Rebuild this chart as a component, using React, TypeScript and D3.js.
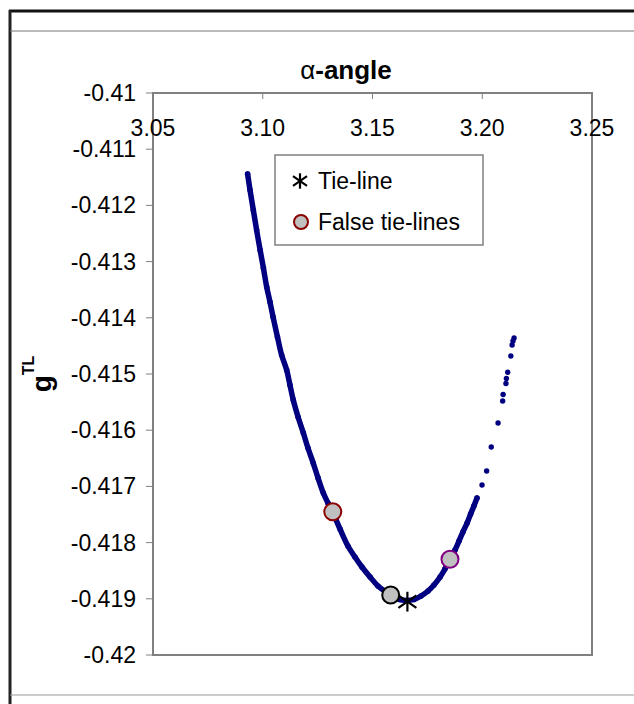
import React from 'react';
import * as d3 from 'd3';

// dense part of the curve (markers overlap into a band)
const denseX = [3.0931, 3.0942, 3.0957, 3.0972, 3.0988, 3.1003, 3.1018, 3.1033, 3.1047, 3.1067,
  3.1086, 3.1109, 3.1124, 3.1139, 3.1161, 3.1185, 3.1206, 3.1230, 3.1252, 3.1276,
  3.1297, 3.1320, 3.1352, 3.1388, 3.1420, 3.1452, 3.1489, 3.1525, 3.1562, 3.1593,
  3.1625, 3.1657, 3.1689, 3.1721, 3.1753, 3.1780, 3.1808, 3.1830, 3.1853, 3.1876,
  3.1894, 3.1912, 3.1931, 3.1947, 3.1962, 3.1976];
const denseY = [-0.411441, -0.411726, -0.412082, -0.412438, -0.412794, -0.413114, -0.413452, -0.413719, -0.413986, -0.414342,
  -0.414662, -0.414929, -0.415196, -0.415463, -0.415765, -0.416050, -0.416317, -0.416584, -0.416851, -0.417117,
  -0.417295, -0.417473, -0.417758, -0.418060, -0.418256, -0.418434, -0.418612, -0.418772, -0.418879, -0.418968,
  -0.419012, -0.419030, -0.419012, -0.418950, -0.418861, -0.418754, -0.418612, -0.418470, -0.418292, -0.418132,
  -0.417972, -0.417811, -0.417651, -0.417491, -0.417349, -0.417206];

// isolated points on the right branch
const sparseX = [3.1999, 3.2020, 3.2041, 3.2072, 3.2093, 3.2095, 3.2108, 3.2110, 3.2116, 3.2130, 3.2136, 3.2140, 3.2145];
const sparseY = [-0.416975, -0.416726, -0.416299, -0.415872, -0.415480, -0.415365, -0.415169, -0.415080, -0.414970, -0.414680, -0.414484, -0.414413, -0.414359];

const tieX = 3.1659;
const tieY = -0.419051;

const falseX = [3.1319, 3.1583, 3.1853];
const falseY = [-0.417450, -0.418932, -0.418297];
const falseEdge = ['#8b0000', '#000000', '#800080'];

const xTicks = [3.05, 3.10, 3.15, 3.20, 3.25];
const yTicks = [-0.41, -0.411, -0.412, -0.413, -0.414, -0.415, -0.416, -0.417, -0.418, -0.419, -0.42];

const FONT = 'Liberation Sans, Arial, sans-serif';

const Star = ({ cx, cy, s }: { cx: number; cy: number; s: number }) => (
  <g stroke="#000" strokeWidth={2.2}>
    <line x1={cx} y1={cy - s * 1.1} x2={cx} y2={cy + s * 1.1} />
    <line x1={cx - s} y1={cy - s * 0.7} x2={cx + s} y2={cy + s * 0.7} />
    <line x1={cx - s} y1={cy + s * 0.7} x2={cx + s} y2={cy - s * 0.7} />
  </g>
);

export default function App() {
  const left = 153, right = 592, top = 93, bottom = 655;
  const x = d3.scaleLinear().domain([3.05, 3.25]).range([left, right]);
  const y = d3.scaleLinear().domain([-0.42, -0.41]).range([bottom, top]);

  const dense = denseX.map((v, i) => [v, denseY[i]] as [number, number]);
  const line = d3.line<[number, number]>()
    .x(d => x(d[0]))
    .y(d => y(d[1]))
    .curve(d3.curveCatmullRom);

  return (
    <svg width={634} height={704} style={{ position: 'absolute', left: 0, top: 0, background: '#fff' }} fontFamily={FONT}>
      {/* outer frame */}
      <line x1={9} y1={11} x2={634} y2={11} stroke="#111" strokeWidth={3} />
      <line x1={10} y1={10} x2={10} y2={704} stroke="#222" strokeWidth={3} />
      <line x1={10} y1={31} x2={634} y2={31} stroke="#777" strokeWidth={1} />
      <line x1={10} y1={695} x2={634} y2={695} stroke="#999" strokeWidth={1} />

      {/* title */}
      <text x={346} y={79} textAnchor="middle" fontSize={26} fontWeight="bold">
        <tspan fontWeight="normal">α</tspan>-angle
      </text>

      {/* y title */}
      <text transform="translate(51,374) rotate(-90)" textAnchor="middle" fontSize={28} fontWeight="bold">
        g<tspan fontSize={16} dy={-17}>TL</tspan>
      </text>

      {/* plot frame */}
      <rect x={left} y={top} width={right - left} height={bottom - top} fill="#fff" stroke="#808080" strokeWidth={2} />

      {/* y ticks */}
      {yTicks.map(t => (
        <g key={t}>
          <line x1={left - 7} x2={left} y1={y(t)} y2={y(t)} stroke="#808080" strokeWidth={1} />
          <text x={136} y={y(t) + 8} textAnchor="end" fontSize={23}>{String(t)}</text>
        </g>
      ))}

      {/* x ticks (top axis, labels inside) */}
      {xTicks.map(t => (
        <g key={t}>
          <line x1={x(t)} x2={x(t)} y1={top} y2={top + 6} stroke="#808080" strokeWidth={1} />
          <text x={x(t)} y={136} textAnchor="middle" fontSize={23}>{d3.format('.2f')(t)}</text>
        </g>
      ))}

      {/* data */}
      <path d={line(dense) || ''} fill="none" stroke="#000080" strokeWidth={5.5} strokeLinecap="round" />
      {dense.map((d, i) => (
        <circle key={'d' + i} cx={x(d[0])} cy={y(d[1])} r={2.8} fill="#000080" />
      ))}
      {sparseX.map((v, i) => (
        <circle key={'s' + i} cx={x(v)} cy={y(sparseY[i])} r={2.7} fill="#000080" />
      ))}

      {falseX.map((v, i) => (
        <circle key={'f' + i} cx={x(v)} cy={y(falseY[i])} r={8.5} fill="#c0c0c0" stroke={falseEdge[i]} strokeWidth={2} />
      ))}
      <Star cx={x(tieX)} cy={y(tieY)} s={9} />

      {/* legend */}
      <rect x={275} y={155} width={208} height={90} fill="#fff" stroke="#808080" strokeWidth={1.5} />
      <Star cx={300} cy={181} s={7} />
      <text x={318} y={189} fontSize={23}>Tie-line</text>
      <circle cx={301} cy={222} r={7} fill="#c0c0c0" stroke="#8b0000" strokeWidth={2} />
      <text x={318} y={230} fontSize={23}>False tie-lines</text>
    </svg>
  );
}
